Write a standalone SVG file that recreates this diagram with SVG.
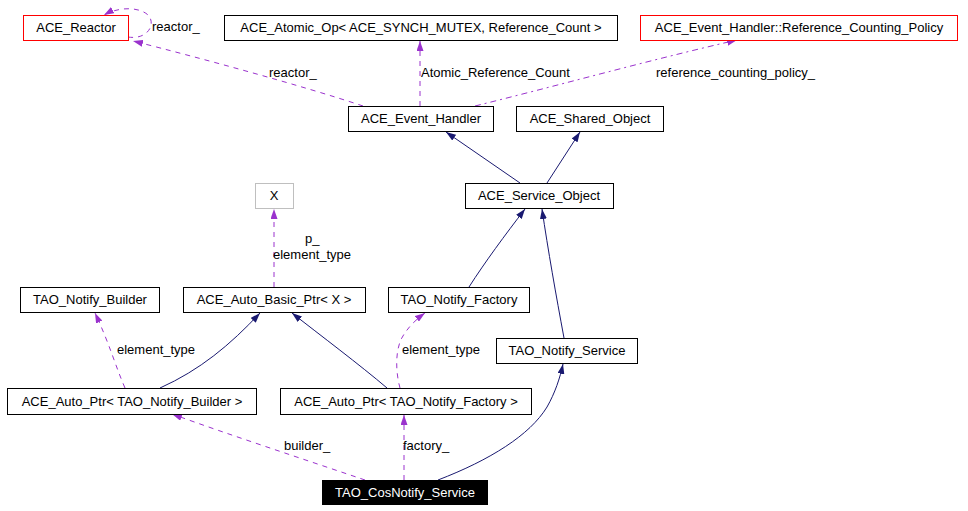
<svg xmlns="http://www.w3.org/2000/svg" width="968" height="511" viewBox="0 0 968 511">
<style>
.n rect{fill:#fff;stroke:#000;stroke-width:1}
.n.red rect{stroke:#ff0000}
.n.grey rect{stroke:#bfbfbf}
.n.root rect{fill:#000;stroke:#000}
.n text{font-family:"Liberation Sans",Arial,sans-serif;font-size:13px;text-anchor:middle;fill:#000}
.n.root text{fill:#fff}
.lbl{font-family:"Liberation Sans",Arial,sans-serif;font-size:13px;fill:#000}
.inh{fill:none;stroke:#191970;stroke-width:1;marker-end:url(#ab)}
.use{fill:none;stroke:#9a32cd;stroke-width:1;stroke-dasharray:5,5;marker-end:url(#ap)}
.dd{stroke-dasharray:6,4,2,4}
</style>
<defs>
<marker id="ab" viewBox="0 0 10 7" refX="10" refY="3.5" markerWidth="10" markerHeight="7" orient="auto" markerUnits="userSpaceOnUse"><path d="M0,0 L10,3.5 L0,7 z" fill="#191970"/></marker>
<marker id="ap" viewBox="0 0 10 7" refX="10" refY="3.5" markerWidth="10" markerHeight="7" orient="auto" markerUnits="userSpaceOnUse"><path d="M0,0 L10,3.5 L0,7 z" fill="#9a32cd"/></marker>
</defs>
<g id="edges">
<path class="use" d="M128,37 C146,40 156,26 149,16 C141,7 120,6 104,15"/>
<path class="use" d="M363,106 C300,85 200,58 133,41"/>
<path class="use" d="M420,106 L420,41"/>
<path class="use dd" d="M475,106 C560,85 650,60 737,40"/>
<path class="inh" d="M520,183 L446,132"/>
<path class="inh" d="M547,183 L580,132"/>
<path class="inh" d="M469,287 C485,262 505,235 525,209"/>
<path class="inh" d="M564,338 C556,295 548,250 542,209"/>
<path class="use" d="M274,287 L274,209"/>
<path class="use" d="M125,388 C115,365 110,345 95,313"/>
<path class="inh" d="M160,388 C200,370 230,345 260,313"/>
<path class="inh" d="M387,388 C360,365 320,335 292,313"/>
<path class="use" d="M400,388 C395,370 395,345 405,333 C410,325 418,318 425,313"/>
<path class="use" d="M365,480 C300,458 230,435 172,414"/>
<path class="use" d="M404,480 L404,415"/>
<path class="inh" d="M438,480 C490,460 530,435 547,407 C555,393 560,378 563,364"/>
</g>
<g id="labels">
<text class="lbl" x="152" y="31">reactor_</text>
<text class="lbl" x="269" y="77">reactor_</text>
<text class="lbl" x="421" y="77">Atomic_Reference_Count</text>
<text class="lbl" x="656" y="77">reference_counting_policy_</text>
<text class="lbl" x="305" y="243">p_</text>
<text class="lbl" x="273" y="259">element_type</text>
<text class="lbl" x="117" y="354">element_type</text>
<text class="lbl" x="402" y="354">element_type</text>
<text class="lbl" x="284" y="450">builder_</text>
<text class="lbl" x="403" y="450">factory_</text>
</g>
<g id="ACE_Reactor" class="n red"><rect x="23.5" y="15.5" width="105" height="25"/><text x="76" y="32">ACE_Reactor</text></g>
<g id="ACE_Atomic_Op" class="n"><rect x="224.5" y="15.5" width="393" height="25"/><text x="421" y="32">ACE_Atomic_Op&lt; ACE_SYNCH_MUTEX, Reference_Count &gt;</text></g>
<g id="Reference_Counting_Policy" class="n red"><rect x="640.5" y="15.5" width="317" height="25"/><text x="799" y="32">ACE_Event_Handler::Reference_Counting_Policy</text></g>
<g id="ACE_Event_Handler" class="n"><rect x="348.5" y="106.5" width="145" height="25"/><text x="421" y="123">ACE_Event_Handler</text></g>
<g id="ACE_Shared_Object" class="n"><rect x="516.5" y="106.5" width="147" height="25"/><text x="590" y="123">ACE_Shared_Object</text></g>
<g id="ACE_Service_Object" class="n"><rect x="465.5" y="183.5" width="148" height="25"/><text x="539" y="200">ACE_Service_Object</text></g>
<g id="X" class="n grey"><rect x="255.5" y="183.5" width="38" height="25"/><text x="274" y="200">X</text></g>
<g id="TAO_Notify_Builder" class="n"><rect x="20.5" y="287.5" width="139" height="25"/><text x="90" y="304">TAO_Notify_Builder</text></g>
<g id="ACE_Auto_Basic_Ptr" class="n"><rect x="183.5" y="287.5" width="182" height="25"/><text x="274" y="304">ACE_Auto_Basic_Ptr&lt; X &gt;</text></g>
<g id="TAO_Notify_Factory" class="n"><rect x="388.5" y="287.5" width="141" height="25"/><text x="459" y="304">TAO_Notify_Factory</text></g>
<g id="TAO_Notify_Service" class="n"><rect x="496.5" y="338.5" width="141" height="25"/><text x="567" y="355">TAO_Notify_Service</text></g>
<g id="ACE_Auto_Ptr_Builder" class="n"><rect x="7.5" y="388.5" width="249" height="26"/><text x="132" y="406">ACE_Auto_Ptr&lt; TAO_Notify_Builder &gt;</text></g>
<g id="ACE_Auto_Ptr_Factory" class="n"><rect x="280.5" y="388.5" width="251" height="26"/><text x="406" y="406">ACE_Auto_Ptr&lt; TAO_Notify_Factory &gt;</text></g>
<g id="TAO_CosNotify_Service" class="n root"><rect x="322.5" y="480.5" width="165" height="24"/><text x="405" y="497">TAO_CosNotify_Service</text></g>
</svg>
